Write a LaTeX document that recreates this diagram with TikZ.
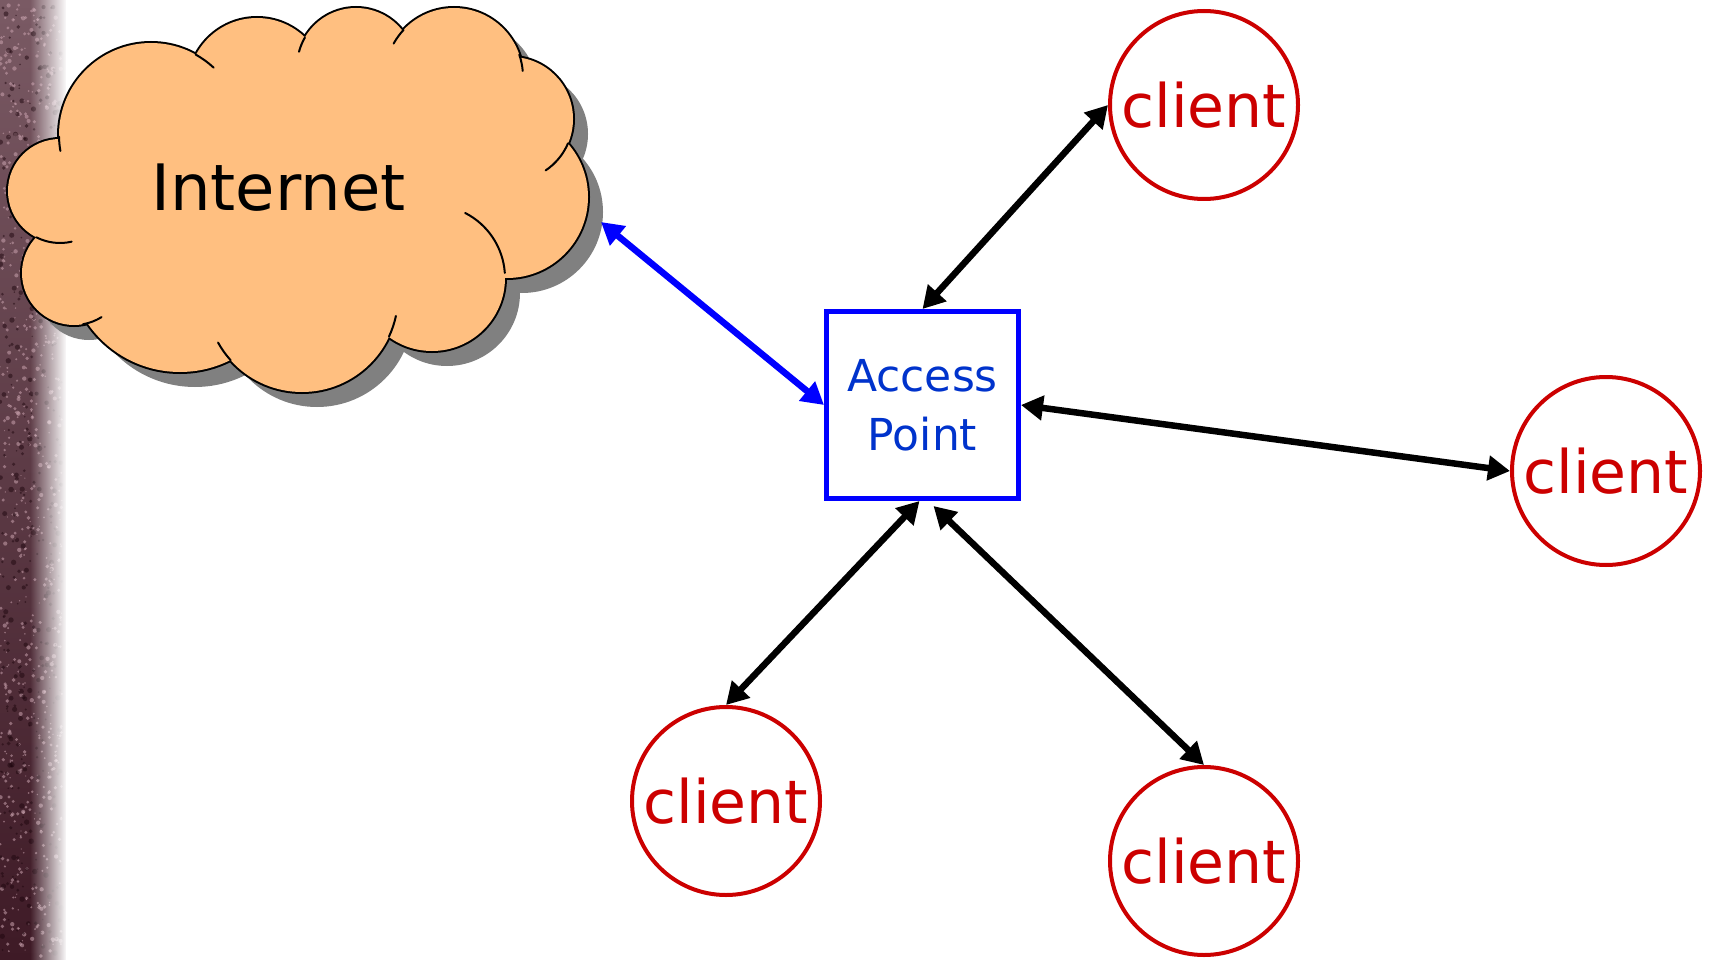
\documentclass[tikz,border=0pt]{standalone}
\usepackage{fontspec}
\setmainfont{DejaVu Sans}
\usetikzlibrary{arrows.meta,calc,fadings}

\definecolor{cloudfill}{HTML}{FFBF80}
\definecolor{cloudshadow}{HTML}{808080}
\definecolor{clientred}{HTML}{CC0000}
\definecolor{aptext}{HTML}{0033CC}
\definecolor{apblue}{HTML}{0000FF}
\definecolor{stripdark}{HTML}{3E1A26}
\definecolor{striplight}{HTML}{7A5A64}
\definecolor{speckpink}{HTML}{C9A2AE}
\definecolor{speckdark}{HTML}{1E060E}

\tikzfading[name=stripfade, left color=transparent!100, right color=transparent!0]

% bumps of the cloud: centre x / centre y / radius
\newcommand\cloudbumps{151/135/92, 257/87/69, 356/67/59, 454/77/69, 511/119/62,
  507/197/81, 432/278/73, 302/296/96, 180/260/112, 60/191/52, 74/273/52}
% inner arcs of the cloud: centre x / centre y / radius / start / end
\newcommand\cloudstubs{151/135/92/179/170, 151/135/92/-61/-47, 356/67/59/210/195,
  454/77/69/223/209, 454/77/69/-19/-5, 511/119/62/23/56, 432/278/73/-63/-4,
  302/296/96/25/12, 302/296/96/138/151, 74/273/52/80/58, 60/191/52/117/77}
\newcommand\cloudcore{(151,135) -- (257,87) -- (356,67) -- (454,77) -- (511,119)
  -- (507,197) -- (432,278) -- (302,296) -- (180,260) -- (74,273) -- (60,191) -- cycle}

\begin{document}
\begin{tikzpicture}[x=1pt,y=-1pt,
  client/.style={circle, draw=clientred, line width=4pt, minimum size=188pt,
    inner sep=0pt, text=clientred, font=\fontsize{60}{72}\selectfont},
  apbox/.style={rectangle, draw=apblue, line width=5pt, minimum width=192pt,
    minimum height=187pt, inner sep=0pt, text=aptext, align=center,
    font=\fontsize{44}{59}\selectfont},
  link/.style={line width=6.5pt,
    {Triangle[length=22pt,width=24pt]}-{Triangle[length=22pt,width=24pt]}},
  cloudline/.style={line width=2pt, line cap=round}
]
\useasboundingbox (0,0) rectangle (1711,960);
\fill[white] (0,0) rectangle (1711,960);

% textured strip on the left edge
\shade[top color=striplight, bottom color=stripdark] (0,0) rectangle (66,960);
\pgfmathsetseed{42}
\foreach \k in {1,...,700}{
  \pgfmathsetmacro{\sx}{rnd*62}
  \pgfmathsetmacro{\sy}{4+rnd*952}
  \pgfmathsetmacro{\sr}{0.6+rnd*1.6}
  \fill[speckpink, opacity=0.55] (\sx,\sy) circle[radius=\sr];
}
\foreach \k in {1,...,400}{
  \pgfmathsetmacro{\sx}{rnd*62}
  \pgfmathsetmacro{\sy}{4+rnd*952}
  \pgfmathsetmacro{\sr}{0.8+rnd*2}
  \fill[speckdark, opacity=0.5] (\sx,\sy) circle[radius=\sr];
}
\fill[white, path fading=stripfade] (30,-10) rectangle (67,970);
\fill[white] (66,-10) rectangle (70,970);

% cloud: shadow, outline, body, inner arcs
\begin{scope}[shift={(15,15)}]
  \foreach \cx/\cy/\r in \cloudbumps { \fill[cloudshadow] (\cx,\cy) circle[radius=\r]; }
  \fill[cloudshadow] \cloudcore;
\end{scope}
\foreach \cx/\cy/\r in \cloudbumps { \draw[line width=4pt] (\cx,\cy) circle[radius=\r]; }
\foreach \cx/\cy/\r in \cloudbumps { \fill[cloudfill] (\cx,\cy) circle[radius=\r]; }
\fill[cloudfill] \cloudcore;
\foreach \cx/\cy/\r/\a/\b in \cloudstubs {
  \draw[cloudline] (\cx,\cy) ++(\a:\r) arc[start angle=\a, end angle=\b, radius=\r];
}
\node[font=\fontsize{64}{77}\selectfont] (inet) at (278.5,188) {Internet};
\coordinate (cloudtip) at (601,222);

% access point and clients
\node[apbox] (ap) at (922.5,405) {Access\\Point};
\node[client] (c1) at (1204,105) {client};
\node[client] (c2) at (1606,471) {client};
\node[client] (c3) at (726,801) {client};
\node[client] (c4) at (1204,861) {client};

% links
\draw[link, apblue] (cloudtip) -- (ap.west);
\draw[link] (ap.north) -- (c1.west);
\draw[link] (ap.east) -- (c2.west);
\draw[link] ($(ap.south)+(-3,0)$) -- (c3.north);
\draw[link] ($(ap.south)+(11,5)$) -- (c4.north);
\end{tikzpicture}
\end{document}
